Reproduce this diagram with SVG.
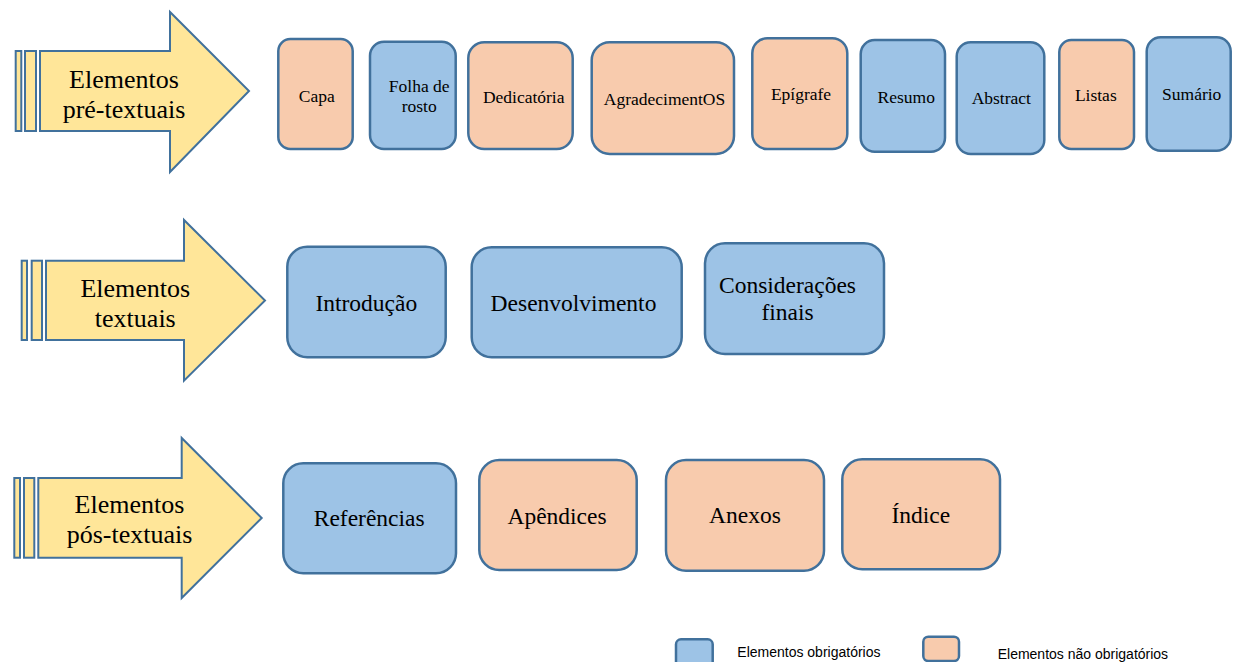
<svg xmlns="http://www.w3.org/2000/svg" width="1246" height="662" viewBox="0 0 1246 662">
<style>
.arrow{fill:#FFE699;stroke:#41719C;stroke-width:2}
.req{fill:#9DC3E6;stroke:#41719C;stroke-width:2.5}
.opt{fill:#F8CBAD;stroke:#41719C;stroke-width:2.5}
.al{font-family:"Liberation Serif","Times New Roman",serif;font-size:26px;fill:#000;text-anchor:middle}
.s{font-family:"Liberation Serif","Times New Roman",serif;font-size:17.5px;fill:#000;text-anchor:middle}
.m{font-family:"Liberation Serif","Times New Roman",serif;font-size:23.5px;fill:#000;text-anchor:middle}
.lg{font-family:"Liberation Sans",Arial,sans-serif;font-size:14px;fill:#000}
</style>
<rect width="1246" height="662" fill="#fff"/>

<g id="arrow-pre">
<rect class="arrow" x="15.7" y="51" width="5.6" height="80"/>
<rect class="arrow" x="25" y="51" width="11" height="80"/>
<polygon class="arrow" points="40,51 170,51 170,12 249,91 170,172 170,131 40,131"/>
<text class="al" x="124" y="87.5">Elementos</text>
<text class="al" x="124" y="117.5">pré-textuais</text>
</g>

<g id="arrow-textuais">
<rect class="arrow" x="21.7" y="260.7" width="5.3" height="79.3"/>
<rect class="arrow" x="31.7" y="260.7" width="10.3" height="79.3"/>
<polygon class="arrow" points="46,260.7 184,260.7 184,220 265,300.5 184,380.7 184,340 46,340"/>
<text class="al" x="135.3" y="296.7">Elementos</text>
<text class="al" x="135.3" y="326.7">textuais</text>
</g>

<g id="arrow-pos">
<rect class="arrow" x="14.3" y="478" width="5.7" height="79.7"/>
<rect class="arrow" x="24" y="478" width="10.3" height="79.7"/>
<polygon class="arrow" points="38.3,478 181.7,478 181.7,438 261.7,518 181.7,598 181.7,557.7 38.3,557.7"/>
<text class="al" x="129.5" y="513.3">Elementos</text>
<text class="al" x="129.5" y="543.3">pós-textuais</text>
</g>

<g id="capa"><rect class="opt" x="278.3" y="39" width="74.4" height="110" rx="12"/><text class="s" x="316.7" y="101.7">Capa</text></g>
<g id="folha"><rect class="req" x="370" y="41.7" width="85.7" height="107.3" rx="14"/><text class="s" x="419.2" y="91.7">Folha de</text><text class="s" x="419.2" y="111.7">rosto</text></g>
<g id="dedicatoria"><rect class="opt" x="468.3" y="42.3" width="104.4" height="106.7" rx="16"/><text class="s" x="523.7" y="102.7">Dedicatória</text></g>
<g id="agradecimentos"><rect class="opt" x="591.7" y="42.3" width="142.3" height="111.7" rx="18"/><text class="s" x="664.5" y="105">AgradecimentOS</text></g>
<g id="epigrafe"><rect class="opt" x="752.3" y="38.3" width="95" height="110.7" rx="15"/><text class="s" x="801" y="100">Epígrafe</text></g>
<g id="resumo"><rect class="req" x="860.7" y="40" width="84.3" height="111.7" rx="14"/><text class="s" x="906.3" y="102.7">Resumo</text></g>
<g id="abstract"><rect class="req" x="956.7" y="42.3" width="87.6" height="111.7" rx="14"/><text class="s" x="1001.3" y="104">Abstract</text></g>
<g id="listas"><rect class="opt" x="1059.3" y="40" width="74.7" height="109" rx="12"/><text class="s" x="1095.8" y="100.7">Listas</text></g>
<g id="sumario"><rect class="req" x="1146.7" y="37.3" width="84" height="113.4" rx="14"/><text class="s" x="1191.7" y="100">Sumário</text></g>

<g id="introducao"><rect class="req" x="287.3" y="246.7" width="158.4" height="110.6" rx="20"/><text class="m" x="366.3" y="311">Introdução</text></g>
<g id="desenvolvimento"><rect class="req" x="471.7" y="247.3" width="210" height="110" rx="20"/><text class="m" x="573.5" y="311">Desenvolvimento</text></g>
<g id="consideracoes"><rect class="req" x="705" y="243.3" width="179" height="110.7" rx="20"/><text class="m" x="787.5" y="293.3">Considerações</text><text class="m" x="787.5" y="320">finais</text></g>

<g id="referencias"><rect class="req" x="283.3" y="463.3" width="172.7" height="110" rx="20"/><text class="m" x="369.2" y="526">Referências</text></g>
<g id="apendices"><rect class="opt" x="479.3" y="460" width="157.4" height="110" rx="20"/><text class="m" x="557" y="524">Apêndices</text></g>
<g id="anexos"><rect class="opt" x="666" y="460" width="158" height="110.7" rx="20"/><text class="m" x="745" y="523.3">Anexos</text></g>
<g id="indice"><rect class="opt" x="842.3" y="459.3" width="157.7" height="110" rx="20"/><text class="m" x="920.8" y="522.7">Índice</text></g>

<g id="legend">
<rect class="req" x="676" y="639.3" width="36.7" height="30" rx="5"/>
<text class="lg" x="737.3" y="656.7">Elementos obrigatórios</text>
<rect class="opt" x="923.3" y="636.7" width="35.7" height="24.3" rx="5"/>
<text class="lg" x="997.7" y="658.5">Elementos não obrigatórios</text>
</g>

<g id="connectors"></g>
</svg>
